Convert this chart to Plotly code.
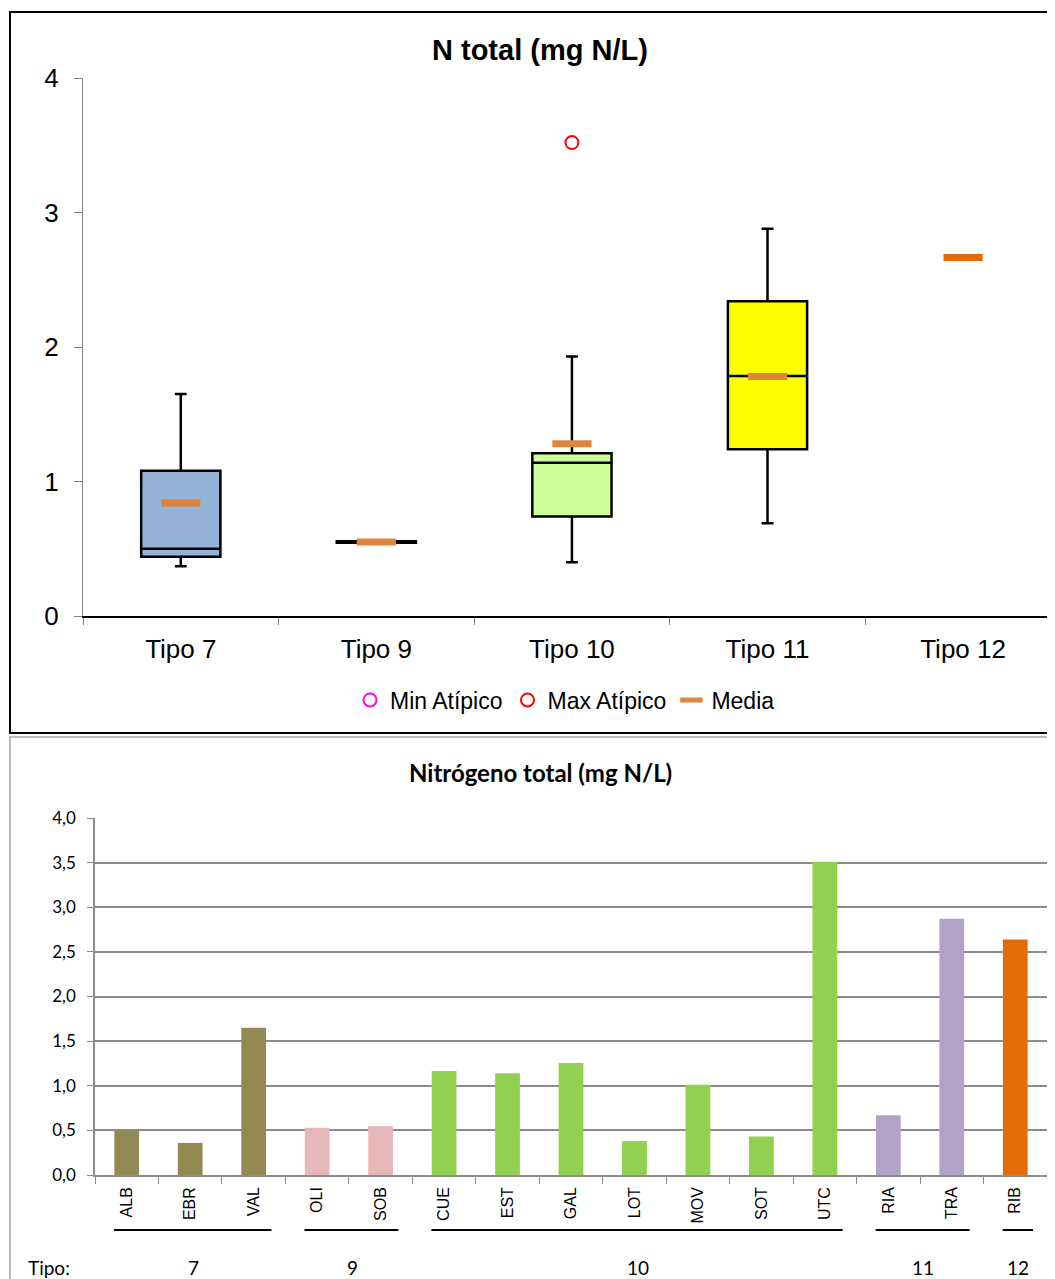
import plotly.graph_objects as go

# ---------------- Data: top chart (box summary by tipo) ----------------
tipos = ["Tipo 7", "Tipo 9", "Tipo 10", "Tipo 11", "Tipo 12"]
box_tipos = ["Tipo 7", "Tipo 9", "Tipo 10", "Tipo 11"]
box_q1 = [0.44, 0.545, 0.74, 1.24]
box_median = [0.50, 0.55, 1.14, 1.785]
box_q3 = [1.08, 0.555, 1.21, 2.34]
box_low = [0.37, 0.545, 0.40, 0.69]
box_high = [1.65, 0.555, 1.93, 2.88]
box_fill = ["#95B3D7", "#FFFFFF", "#CCFF99", "#FFFF00"]
media = [0.84, 0.55, 1.28, 1.78, 2.665]
media_colors = ["#DF833D", "#DF833D", "#DF833D", "#DF833D", "#E36C09"]
max_atip_x = ["Tipo 10"]
max_atip_y = [3.52]

# ---------------- Data: bottom chart (stations) ----------------
stations = ["ALB", "EBR", "VAL", "OLI", "SOB", "CUE", "EST", "GAL", "LOT",
            "MOV", "SOT", "UTC", "RIA", "TRA", "RIB"]
n_total = [0.50, 0.36, 1.65, 0.53, 0.545, 1.165, 1.14, 1.255, 0.38,
           1.01, 0.43, 3.51, 0.67, 2.87, 2.64]
station_tipo = ["7", "7", "7", "9", "9", "10", "10", "10", "10",
                "10", "10", "10", "11", "11", "12"]
tipo_color = {"7": "#938953", "9": "#E6B9B8", "10": "#92D050",
              "11": "#B3A2C7", "12": "#E36C09"}
group_order = ["7", "9", "10", "11", "12"]

OFF = 8  # page body margin
W, H = 1055 - OFF, 1279 - OFF


def py(px):
    return 1 - (px - OFF) / H


def pxx(px):
    return (px - OFF) / W


fig = go.Figure()

# ---- top: boxes
for i, t in enumerate(box_tipos):
    fig.add_trace(go.Box(
        x=[t], q1=[box_q1[i]], median=[box_median[i]], q3=[box_q3[i]],
        lowerfence=[box_low[i]], upperfence=[box_high[i]],
        fillcolor=box_fill[i], line=dict(color="black", width=2.5),
        width=0.405, whiskerwidth=0.15, boxpoints=False,
        showlegend=False, hoverinfo="skip", xaxis="x", yaxis="y"))

fig.add_trace(go.Scatter(
    x=[None], y=[None], mode="markers", name="Min Atípico",
    marker=dict(symbol="circle-open", size=13, color="#FF00FF",
                line=dict(width=2, color="#FF00FF")),
    xaxis="x", yaxis="y"))
fig.add_trace(go.Scatter(
    x=max_atip_x, y=max_atip_y, mode="markers", name="Max Atípico",
    marker=dict(symbol="circle-open", size=13, color="#FF0000",
                line=dict(width=2, color="#FF0000")),
    xaxis="x", yaxis="y"))
fig.add_trace(go.Scatter(
    x=tipos, y=media, mode="markers", name="Media",
    marker=dict(symbol="line-ew", size=28, color=media_colors,
                line=dict(width=7, color=media_colors)),
    xaxis="x", yaxis="y"))

# ---- bottom: bars
fig.add_trace(go.Bar(
    x=stations, y=n_total,
    marker=dict(color=[tipo_color[t] for t in station_tipo], line=dict(width=0)),
    width=0.39, showlegend=False, xaxis="x2", yaxis="y2"))

shapes = []
annotations = []

# group underlines and labels
for g in group_order:
    idx = [i for i, t in enumerate(station_tipo) if t == g]
    first, last = idx[0], idx[-1]
    shapes.append(dict(type="line", xref="x2", yref="paper",
                       x0=first - 0.2, x1=last + 0.28, y0=py(1230), y1=py(1230),
                       line=dict(color="black", width=2)))
    annotations.append(dict(text=g, xref="x2", yref="paper",
                            x=(first + last) / 2 + 0.05, y=py(1267),
                            showarrow=False, xanchor="center", yanchor="middle",
                            font=dict(family="Lato", size=19, color="black")))
annotations.append(dict(text="Tipo:", xref="paper", yref="paper",
                        x=pxx(26), y=py(1267), showarrow=False,
                        xanchor="left", yanchor="middle",
                        font=dict(family="Lato", size=19, color="black")))

# titles
annotations.append(dict(text="<b>N total (mg N/L)</b>", xref="paper", yref="paper",
                        x=pxx(540), y=py(50), showarrow=False,
                        xanchor="center", yanchor="middle",
                        font=dict(family="Arial", size=29, color="black")))
annotations.append(dict(text="<b>Nitrógeno total (mg N/L)</b>", xref="paper", yref="paper",
                        x=pxx(540), y=py(772), showarrow=False,
                        xanchor="center", yanchor="middle",
                        font=dict(family="Lato", size=24, color="black")))

# chart frames
shapes.append(dict(type="rect", xref="paper", yref="paper",
                   x0=pxx(10), x1=1.05, y0=py(733), y1=py(12),
                   line=dict(color="black", width=2)))
shapes.append(dict(type="rect", xref="paper", yref="paper",
                   x0=pxx(10), x1=1.05, y0=-0.05, y1=py(737),
                   line=dict(color="#A6A6A6", width=1.5)))

fig.update_layout(
    width=W, height=H,
    margin=dict(l=0, r=0, t=0, b=0, pad=0, autoexpand=False),
    paper_bgcolor="white", plot_bgcolor="white",
    separators=",.",
    boxmode="overlay",
    showlegend=True,
    legend=dict(orientation="h", x=pxx(565), xanchor="center",
                y=py(700), yanchor="middle",
                font=dict(family="Arial", size=23, color="black"),
                itemwidth=30, tracegroupgap=0, bgcolor="rgba(0,0,0,0)"),
    xaxis=dict(domain=[pxx(83), 1.0], type="category",
               categoryorder="array", categoryarray=tipos,
               range=[-0.5, 4.47], tickson="boundaries", automargin=False,
               ticks="outside", ticklen=7, tickcolor="#808080",
               showline=True, linecolor="black", linewidth=1.5,
               showgrid=False, zeroline=False, ticklabelstandoff=9,
               tickfont=dict(family="Arial", size=26, color="black")),
    yaxis=dict(domain=[py(616), py(78)], range=[0, 4], automargin=False,
               tickvals=[0, 1, 2, 3, 4], ticks="outside", ticklen=8,
               tickcolor="#808080", showline=True, linecolor="#808080",
               linewidth=1.2, showgrid=False, zeroline=False,
               ticklabelstandoff=10,
               tickfont=dict(family="Arial", size=26, color="black")),
    xaxis2=dict(domain=[pxx(95), pxx(1047)], type="category",
                categoryorder="array", categoryarray=stations,
                range=[-0.5, len(stations) - 0.5], anchor="y2",
                automargin=False,
                tickson="boundaries", ticks="outside", ticklen=7,
                tickcolor="#8C8C8C", showline=True, linecolor="#8C8C8C",
                linewidth=1.5, showgrid=False, zeroline=False,
                tickangle=-90, ticklabelstandoff=4,
                tickfont=dict(family="Arial", size=16, color="black")),
    yaxis2=dict(domain=[py(1175), py(818)], range=[0, 4], anchor="x2",
                automargin=False,
                tickvals=[0, 0.5, 1, 1.5, 2, 2.5, 3, 3.5, 4],
                tickformat=".1f", ticks="outside", ticklen=6,
                tickcolor="#8C8C8C", showline=True, mirror=True,
                linecolor="#8C8C8C", linewidth=1.5,
                showgrid=True, gridcolor="#8C8C8C", gridwidth=1.5,
                zeroline=False, ticklabelstandoff=8,
                tickfont=dict(family="Lato", size=17, color="black")),
    shapes=shapes,
    annotations=annotations,
)

fig.write_html("out.html")
